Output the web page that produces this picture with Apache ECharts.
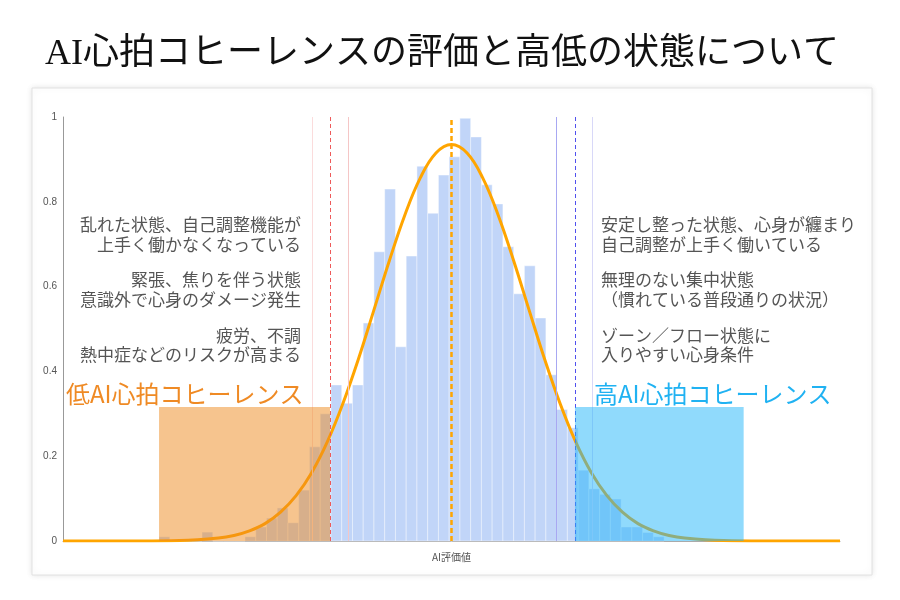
<!DOCTYPE html>
<html>
<head>
<meta charset="utf-8">
<script src="https://cdn.jsdelivr.net/npm/echarts@6.0.0/dist/echarts.min.js"></script>
<style>
html,body{margin:0;padding:0;background:#fff;}
#c{width:900px;height:600px;}
</style>
</head>
<body>
<div id="c"></div>
<script>
// ---- data ----
const titleText = 'AI心拍コヒーレンスの評価と高低の状態について';
const xAxisName = 'AI評価値';
const binStart = 12.36;
const binWidth = 1.383;
const binHeights = [
  0.01, 0, 0, 0, 0.021, 0, 0, 0, 0.01, 0.033,
  0.054, 0.078, 0.043, 0.12, 0.222, 0.30, 0.368, 0.325, 0.368, 0.514,
  0.682, 0.830, 0.458, 0.672, 0.884, 0.773, 0.863, 0.906, 0.997, 0.953,
  0.840, 0.795, 0.694, 0.583, 0.649, 0.526, 0.392, 0.31, 0.267, 0.167,
  0.123, 0.11, 0.099, 0.033, 0.033, 0.02, 0.01
];
const curveX = [0, 10, 15, 20, 22, 24, 26, 28, 30, 32, 34, 36, 38, 40, 42, 44, 46, 48, 50,
                52, 54, 56, 58, 60, 62, 64, 66, 68, 70, 72, 74, 76, 78, 80, 85, 90, 100];
const curveY = [0, 0, 0.001, 0.007, 0.013, 0.024, 0.041, 0.068, 0.107, 0.161, 0.233, 0.323, 0.428, 0.544, 0.661, 0.769, 0.857, 0.915, 0.935,
                0.915, 0.857, 0.769, 0.661, 0.544, 0.428, 0.323, 0.233, 0.161, 0.107, 0.068, 0.041, 0.024, 0.013, 0.007, 0.001, 0, 0];
const meanValue = 50;
const lowLines = [32.05, 34.36, 36.68];
const highLines = [63.45, 65.89, 68.08];
const lowZone = [12.36, 34.36, 0.316];
const highZone = [65.89, 87.6, 0.316];
const lowLabel = '低AI心拍コヒーレンス';
const highLabel = '高AI心拍コヒーレンス';
const lowTexts = [
  ['乱れた状態、自己調整機能が', '上手く働かなくなっている'],
  ['緊張、焦りを伴う状態', '意識外で心身のダメージ発生'],
  ['疲労、不調', '熱中症などのリスクが高まる']
];
const highTexts = [
  ['安定し整った状態、心身が纏まり', '自己調整が上手く働いている'],
  ['無理のない集中状態', '（慣れている普段通りの状況）'],
  ['ゾーン／フロー状態に', '入りやすい心身条件']
];

// ---- build chart ----
const chart = echarts.init(document.getElementById('c'));
const FONT = '"Noto Sans CJK JP", "Noto Sans", sans-serif';

const histData = binHeights.map((h, i) => [binStart + i * binWidth, binStart + (i + 1) * binWidth, h]);
const curveData = curveX.map((x, i) => [x, curveY[i]]);

const lineY = [225, 245, 280, 300, 336, 355];
const graphics = [
  {type: 'rect', z: -10, shape: {x: 32, y: 88, width: 840, height: 487},
   style: {fill: '#fff', stroke: '#e2e2e2', lineWidth: 1, shadowBlur: 6, shadowColor: 'rgba(0,0,0,0.10)'}}
];
lowTexts.flat().forEach((t, i) => {
  graphics.push({type: 'text', z: 100, style: {text: t, x: 301, y: lineY[i], textAlign: 'right', textVerticalAlign: 'middle',
    font: '17px ' + FONT, fill: '#555'}});
});
highTexts.flat().forEach((t, i) => {
  graphics.push({type: 'text', z: 100, style: {text: t, x: 601, y: lineY[i], textAlign: 'left', textVerticalAlign: 'middle',
    font: '17px ' + FONT, fill: '#555'}});
});
graphics.push({type: 'text', z: 100, style: {text: lowLabel, x: 66, y: 394, textAlign: 'left', textVerticalAlign: 'middle',
  font: '24px ' + FONT, fill: '#EF8A24'}});
graphics.push({type: 'text', z: 100, style: {text: highLabel, x: 594, y: 394, textAlign: 'left', textVerticalAlign: 'middle',
  font: '24px ' + FONT, fill: '#20B2F2'}});

function vline(x, color, type, width) {
  return {xAxis: x, lineStyle: {color: color, type: type, width: width || 1, opacity: 1}};
}

const option = {
  animation: false,
  backgroundColor: '#fff',
  title: {
    text: titleText, left: 40, top: 32,
    textStyle: {fontSize: 36, fontWeight: 'normal', color: '#111',
      fontFamily: '"Liberation Serif", "Noto Sans CJK JP", serif'}
  },
  graphic: graphics,
  grid: {left: 63, right: 60, top: 117, bottom: 59},
  xAxis: {
    type: 'value', min: 0, max: 100,
    name: xAxisName, nameLocation: 'middle', nameGap: 11,
    nameTextStyle: {fontSize: 10, color: '#555', fontFamily: FONT},
    axisLine: {show: true, lineStyle: {color: '#aaa'}},
    axisTick: {show: false}, axisLabel: {show: false}, splitLine: {show: false}
  },
  yAxis: {
    type: 'value', min: 0, max: 1, interval: 0.2,
    axisLine: {show: true, lineStyle: {color: '#999'}},
    axisTick: {show: false},
    axisLabel: {fontSize: 10, color: '#555', margin: 6, fontFamily: '"Liberation Sans", Arial, sans-serif'},
    splitLine: {show: false}
  },
  series: [
    {
      type: 'custom', z: 1, data: histData,
      encode: {x: [0, 1], y: 2},
      renderItem: function (params, api) {
        const p0 = api.coord([api.value(0), api.value(2)]);
        const p1 = api.coord([api.value(1), 0]);
        return {type: 'rect', shape: {x: p0[0], y: p0[1], width: p1[0] - p0[0], height: p1[1] - p0[1]},
          style: {fill: 'rgba(100,149,237,0.4)', stroke: 'rgba(255,255,255,0.7)', lineWidth: 0.6}};
      }
    },
    {
      type: 'line', z: 2, data: [], silent: true,
      markLine: {
        silent: true, symbol: ['none', 'none'], label: {show: false},
        data: [
          vline(lowLines[0], '#FBDCDC', 'solid'),
          vline(lowLines[1], '#EE5A5A', [4, 3]),
          vline(lowLines[2], '#F5C6C6', 'solid'),
          vline(meanValue, '#FFA500', [5, 3], 2.5),
          vline(highLines[0], '#A8A8F2', 'solid'),
          vline(highLines[1], '#5050EE', [4, 3]),
          vline(highLines[2], '#D8D8F8', 'solid')
        ]
      }
    },
    {
      type: 'line', z: 3, data: curveData, smooth: 0.4, showSymbol: false, silent: true,
      lineStyle: {color: '#FFA500', width: 3}
    },
    {
      type: 'custom', z: 5, silent: true,
      data: [[lowZone[0], lowZone[1], lowZone[2], 0], [highZone[0], highZone[1], highZone[2], 1]],
      encode: {x: [0, 1], y: 2},
      renderItem: function (params, api) {
        const p0 = api.coord([api.value(0), api.value(2)]);
        const p1 = api.coord([api.value(1), 0]);
        const fill = api.value(3) === 0 ? 'rgba(237,137,29,0.5)' : 'rgba(33,181,249,0.5)';
        return {type: 'rect', shape: {x: p0[0], y: p0[1], width: p1[0] - p0[0], height: p1[1] - p0[1]},
          style: {fill: fill}};
      }
    }
  ]
};
chart.setOption(option);
</script>
</body>
</html>
